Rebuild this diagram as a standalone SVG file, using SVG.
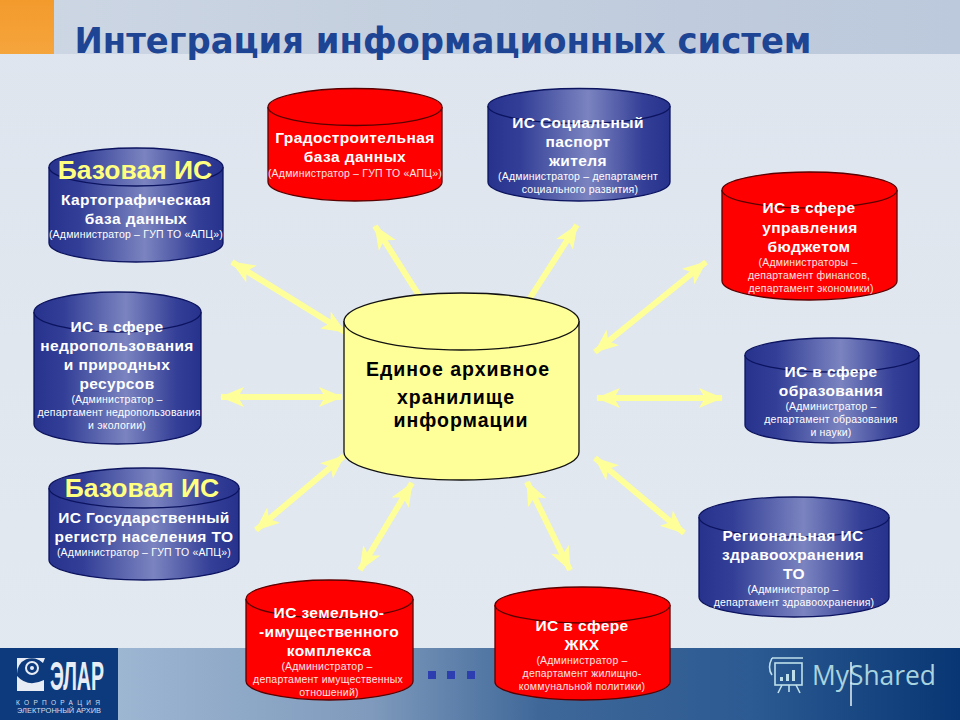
<svg xmlns="http://www.w3.org/2000/svg" width="960" height="720" viewBox="0 0 960 720">
<defs>
<linearGradient id="blue" x1="0" y1="0" x2="1" y2="0"><stop offset="0" stop-color="#26328c"/><stop offset=".18" stop-color="#333f97"/><stop offset=".55" stop-color="#7b84c0"/><stop offset=".85" stop-color="#343f97"/><stop offset="1" stop-color="#26328c"/></linearGradient>
<linearGradient id="topband" x1="0" y1="0" x2="1" y2="0"><stop offset="0" stop-color="#cdd7e4"/><stop offset=".5" stop-color="#c3cede"/><stop offset="1" stop-color="#bcc9dc"/></linearGradient>
<linearGradient id="fade" x1="0" y1="0" x2="0" y2="1"><stop offset="0" stop-color="#dee5ee"/><stop offset="1" stop-color="#e3e9f0"/></linearGradient>
<linearGradient id="botband" x1="0" y1="0" x2="1" y2="0"><stop offset="0" stop-color="#9db6d2"/><stop offset=".3" stop-color="#7f9abc"/><stop offset=".5" stop-color="#3f6899"/><stop offset=".75" stop-color="#2c5a92"/><stop offset="1" stop-color="#083674"/></linearGradient>
<linearGradient id="orange" x1="0" y1="0" x2="0" y2="1"><stop offset="0" stop-color="#f39a2c"/><stop offset="1" stop-color="#f5a53d"/></linearGradient>
<marker id="head" viewBox="0 0 24 22" refX="23" refY="11" markerWidth="24" markerHeight="22" markerUnits="userSpaceOnUse" orient="auto-start-reverse"><path d="M0 1 L24 11 L0 21 L6 11 Z" fill="#ffff99"/></marker>
</defs>
<style>
.cyl{stroke-width:1.3}
.b{fill:url(#blue);stroke:#0c1460}
.r{fill:#fe0000;stroke:#5a0000}
.y{fill:#ffff99;stroke:#111}
text{font-family:"Liberation Sans",Arial,sans-serif;text-anchor:middle}
.m{font-size:15.5px;font-weight:bold;fill:#fff;letter-spacing:.4px}
.s{font-size:10.5px;fill:#fff;letter-spacing:.2px}
.rs{fill:#ffe4e4}
.base{font-size:26.5px;font-weight:bold;fill:#ffff80}
.c{font-size:19.5px;font-weight:bold;fill:#000;letter-spacing:1px}
.arrow{fill:none;stroke:#ffff99;stroke-width:6;marker-start:url(#head);marker-end:url(#head)}
.single{fill:none;stroke:#ffff99;stroke-width:6;marker-end:url(#head)}
</style>
<g id="background">
<rect width="960" height="720" fill="url(#fade)"/>
<rect width="960" height="54" fill="url(#topband)"/>
<rect width="54" height="54" fill="url(#orange)"/>
<rect x="118" y="648" width="842" height="72" fill="url(#botband)"/>
<rect y="648" width="118" height="72" fill="#0d3a7c"/>
</g>
<text id="title" x="443" y="53" style="font-family:'DejaVu Sans',Verdana,sans-serif;font-weight:bold;font-size:36px;fill:#1e4494" textLength="737" lengthAdjust="spacingAndGlyphs">Интеграция информационных систем</text>
<g id="logo">
<path d="M17 658 H45 L43 663 A15 15 0 0 0 17 674 Z" fill="#e8edf5"/>
<circle cx="32" cy="668" r="6" fill="none" stroke="#e8edf5" stroke-width="2"/><circle cx="32" cy="668" r="2" fill="#e8edf5"/>
<path d="M17 676 Q28 688 44 680 V691 H17 Z" fill="#e8edf5"/>
<text x="77" y="690" style="font-size:40px;font-weight:bold;fill:#e8edf5" textLength="54" lengthAdjust="spacingAndGlyphs">ЭЛАР</text>
<text x="58" y="705" style="font-size:6.5px;fill:#d4deec" textLength="84">КОРПОРАЦИЯ</text>
<text x="59" y="713" style="font-size:6.5px;fill:#d4deec" textLength="84" lengthAdjust="spacingAndGlyphs">ЭЛЕКТРОННЫЙ АРХИВ</text>
</g>
<g id="dots" fill="#2d3fb0"><rect x="428" y="671" width="8" height="8"/><rect x="447" y="671" width="8" height="8"/><rect x="467" y="671" width="8" height="8"/></g>
<g id="myshared">
<g fill="none" stroke="#bfe0ea" stroke-width="1.6"><rect x="775" y="663" width="27" height="22"/><path d="M772 658 H803 M772 658 Q767 668 772 675 M782 685 L778 693 M796 685 L800 693 M789 685 V692"/></g>
<g fill="#bfe0ea"><rect x="780" y="677" width="3" height="4"/><rect x="786" y="674" width="3" height="7"/><rect x="792" y="670" width="3" height="11"/></g>
<text x="874" y="685" style="font-family:'Open Sans',sans-serif;font-size:28px;fill:#a9d3de" textLength="124" lengthAdjust="spacingAndGlyphs">MyShared</text>
<path d="M851 662 V706" stroke="#e8f2f6" stroke-width="1.5"/>
</g>
<g id="connectors">
<path class="arrow" d="M232 262 L345 332"/>
<path class="single" d="M420 297 L375 226"/>
<path class="single" d="M530 298 L577 225"/>
<path class="arrow" d="M595 352 L706 262"/>
<path class="arrow" d="M597 398 L722 398"/>
<path class="arrow" d="M221 397 L342 397"/>
<path class="arrow" d="M595 458 L684 533"/>
<path class="arrow" d="M527 482 L570 570"/>
<path class="arrow" d="M412 483 L360 570"/>
<path class="arrow" d="M344 456 L256 530"/>
</g>
<g id="node-grad" class="cyl">
<path class="r" d="M268 107 V182 A87 19 0 0 0 442 182 V107"/><ellipse class="r" cx="355" cy="107" rx="87" ry="18.5"/>
<text class="m" x="355" y="143">Градостроительная</text><text class="m" x="355" y="162">база данных</text><text class="s rs" x="355" y="177">(Администратор – ГУП ТО «АПЦ»)</text>
</g>
<g id="node-social" class="cyl">
<path class="b" d="M488 106 V182 A91 19 0 0 0 670 182 V106"/><ellipse class="b" cx="579" cy="106" rx="91" ry="17.5"/>
<text class="m" x="578" y="128">ИС Социальный</text><text class="m" x="578" y="147">паспорт</text><text class="m" x="578" y="166">жителя</text><text class="s" x="578" y="180">(Администратор – департамент</text><text class="s" x="580" y="193">социального развития)</text>
</g>
<g id="node-budget" class="cyl">
<path class="r" d="M722 190 V281 A87.5 19 0 0 0 897 281 V190"/><ellipse class="r" cx="809.500" cy="190" rx="87.500" ry="18"/>
<text class="m" x="809" y="213">ИС в сфере</text><text class="m" x="810" y="233">управления</text><text class="m" x="809" y="252">бюджетом</text><text class="s rs" x="808" y="266">(Администраторы –</text><text class="s rs" x="809" y="279">департамент финансов,</text><text class="s rs" x="811" y="292">департамент экономики)</text>
</g>
<g id="node-edu" class="cyl">
<path class="b" d="M745 355 V425 A87 18 0 0 0 919 425 V355"/><ellipse class="b" cx="832" cy="355" rx="87" ry="17"/>
<text class="m" x="831" y="377">ИС в сфере</text><text class="m" x="831" y="396">образования</text><text class="s" x="831" y="410">(Администратор –</text><text class="s" x="831" y="423">департамент образования</text><text class="s" x="831" y="436">и науки)</text>
</g>
<g id="node-health" class="cyl">
<path class="b" d="M699 517 V597 A95 20 0 0 0 889 597 V517"/><ellipse class="b" cx="794" cy="517" rx="95" ry="20"/>
<text class="m" x="793" y="541">Региональная ИС</text><text class="m" x="793" y="560">здравоохранения</text><text class="m" x="794" y="579">ТО</text><text class="s" x="793" y="593">(Администратор –</text><text class="s" x="794" y="606">департамент здравоохранения)</text>
</g>
<g id="node-zhkh" class="cyl">
<path class="r" d="M495 605 V682 A87.500 18 0 0 0 670 682 V605"/><ellipse class="r" cx="582.500" cy="605" rx="87.500" ry="18"/>
<text class="m" x="582" y="631">ИС в сфере</text><text class="m" x="582" y="650">ЖКХ</text><text class="s rs" x="582" y="664">(Администратор –</text><text class="s rs" x="582" y="677">департамент жилищно-</text><text class="s rs" x="582" y="690">коммунальной политики)</text>
</g>
<g id="node-land" class="cyl">
<path class="r" d="M246 599 V681 A83.500 19 0 0 0 413 681 V599"/><ellipse class="r" cx="329.500" cy="599" rx="83.500" ry="19"/>
<text class="m" x="329" y="618">ИС земельно-</text><text class="m" x="329" y="637">-имущественного</text><text class="m" x="329" y="656">комплекса</text><text class="s rs" x="327" y="670">(Администратор –</text><text class="s rs" x="328" y="683">департамент имущественных</text><text class="s rs" x="329" y="696">отношений)</text>
</g>
<g id="node-base2" class="cyl">
<path class="b" d="M49 488 V560 A95 20 0 0 0 239 560 V488"/><ellipse class="b" cx="144" cy="488" rx="95" ry="20"/>
<text class="base" x="142" y="497">Базовая ИС</text>
<text class="m" x="144" y="523">ИС Государственный</text><text class="m" x="144" y="542">регистр населения ТО</text><text class="s" x="144" y="556">(Администратор – ГУП ТО «АПЦ»)</text>
</g>
<g id="node-subsoil" class="cyl">
<path class="b" d="M34 312 V424 A83.500 20 0 0 0 201 424 V312"/><ellipse class="b" cx="117.500" cy="312" rx="83.500" ry="20"/>
<text class="m" x="117" y="332">ИС в сфере</text><text class="m" x="117" y="351">недропользования</text><text class="m" x="117" y="370">и природных</text><text class="m" x="117" y="389">ресурсов</text><text class="s" x="117" y="403">(Администратор –</text><text class="s" x="119" y="416">департамент недропользования</text><text class="s" x="117" y="429">и экологии)</text>
</g>
<g id="node-base1" class="cyl">
<path class="b" d="M49 167 V243 A87 19 0 0 0 223 243 V167"/><ellipse class="b" cx="136" cy="167" rx="87" ry="19"/>
<text class="base" x="135" y="179">Базовая ИС</text>
<text class="m" x="136" y="205">Картографическая</text><text class="m" x="136" y="224">база данных</text><text class="s" x="136" y="238">(Администратор – ГУП ТО «АПЦ»)</text>
</g>
<g id="node-center" class="cyl">
<path class="y" d="M344 321 V452 A117.500 28 0 0 0 579 452 V321"/><ellipse class="y" cx="461.500" cy="321.500" rx="117.500" ry="28.500"/>
<text class="c" x="458" y="376">Единое архивное</text><text class="c" x="456" y="404">хранилище</text><text class="c" x="461" y="427">информации</text>
</g>
</svg>
